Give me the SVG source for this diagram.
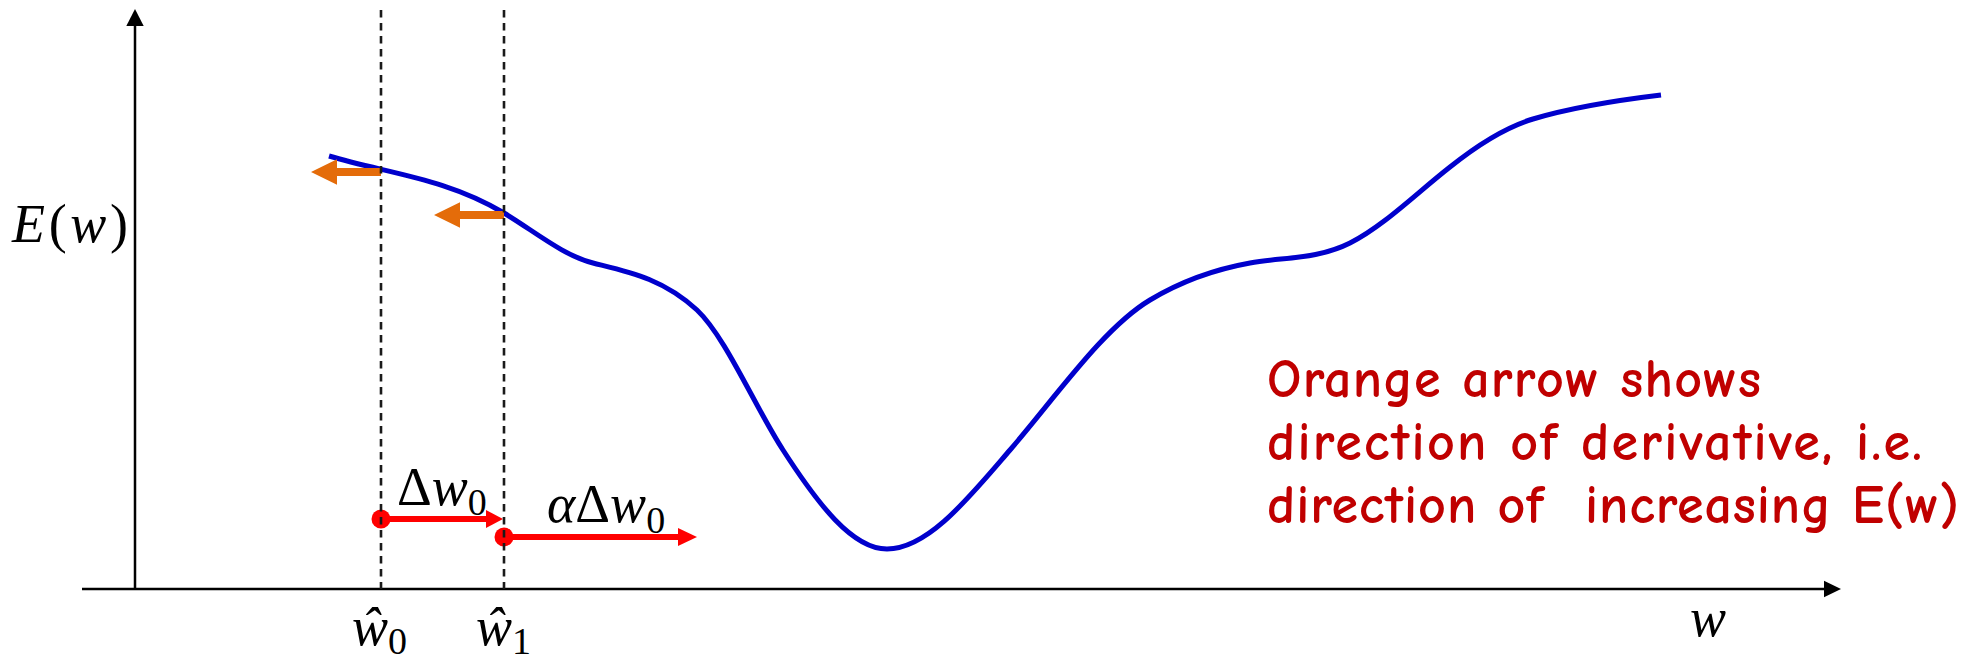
<svg xmlns="http://www.w3.org/2000/svg" width="1978" height="662" viewBox="0 0 1978 662">
<style>
.axis{stroke:#000;stroke-width:2.5;fill:none}
.dash{stroke:#1a1a1a;stroke-width:2.6;stroke-dasharray:7.5 5.5;fill:none}
.curve{stroke:#0000CC;stroke-width:5;fill:none}
.orange{fill:#E46C0A}
.red{fill:#FF0000}
.redline{stroke:#FF0000;stroke-width:6}
.math{font-family:"Liberation Serif","DejaVu Serif",serif;font-size:54px;fill:#000}
.it{font-style:italic}
.sub{font-size:38px;font-style:normal}
.note{font-family:"Comic Sans MS","Comic Neue","Open Sans",sans-serif;font-size:54px;font-weight:bold;fill:#C00000;white-space:pre}
</style>
<rect width="1978" height="662" fill="#fff"/>
<g id="curve">
<path class="curve" d="M329,156 C387.3,173.5 445.7,178 504,213 C533.7,230.8 563.3,255.6 593,263 C627.7,271.7 662.3,278.1 697,310 C725.7,337.2 754.3,405.5 783,450 C817.7,503.8 852.3,549 887,549 C928,549 969,497.6 1010,450 C1056.7,395.8 1103.3,328 1150,300 C1183.3,280 1216.7,269 1250,263 C1283.3,257 1316.7,259.7 1350,243 C1383.3,226.3 1416.7,193 1450,167 C1477.7,144.8 1505.3,127.3 1533,119 C1575.7,106.2 1618.3,100.1 1661,95"/>
</g>
<g id="orange-arrows">
<polygon class="orange" points="381,168 337,168 337,159.3 311,172 337,184.7 337,176 381,176"/>
<polygon class="orange" points="504,211 460,211 460,202.3 434,215 460,227.7 460,219 504,219"/>
</g>
<g id="connectors">
<line class="axis" x1="135" y1="589" x2="135" y2="24"/>
<polygon points="135,9 126.3,26 143.7,26" fill="#000"/>
<line class="axis" x1="82" y1="589" x2="1826" y2="589"/>
<polygon points="1841,589 1824,580.7 1824,597.3" fill="#000"/>
<line class="redline" x1="381" y1="519" x2="488" y2="519"/>
<polygon class="red" points="486,510 503,519 486,528"/>
<line class="redline" x1="504" y1="537" x2="680" y2="537"/>
<polygon class="red" points="678,528 697,537 678,546"/>
</g>
<g id="points">
<circle class="red" cx="381" cy="519" r="9.5"/>
<circle class="red" cx="504" cy="537" r="9.5"/>
</g>
<g id="guides">
<line class="dash" x1="381" y1="10" x2="381" y2="589"/>
<line class="dash" x1="504" y1="10" x2="504" y2="589"/>
</g>
<g id="labels">
<text class="math" x="12" y="242" textLength="116"><tspan class="it">E</tspan>(<tspan class="it">w</tspan>)</text>
<text class="math it" x="1690" y="636">w</text>
<text class="math" x="352" y="645"><tspan class="it">ŵ</tspan><tspan class="sub" dy="9">0</tspan></text>
<text class="math" x="476" y="645"><tspan class="it">ŵ</tspan><tspan class="sub" dy="9">1</tspan></text>
<text class="math" x="397" y="505">Δ<tspan class="it">w</tspan><tspan class="sub" dy="10">0</tspan></text>
<text class="math" x="547" y="522"><tspan class="it">α</tspan>Δ<tspan class="it">w</tspan><tspan class="sub" dy="11">0</tspan></text>
</g>
<g id="note">
<text class="note" x="1267" y="397" textLength="494">Orange arrow shows</text>
<text class="note" x="1267" y="460" textLength="655">direction of derivative, i.e.</text>
<text class="note" x="1267" y="523" textLength="692">direction of  increasing E(w)</text>
</g>
</svg>
